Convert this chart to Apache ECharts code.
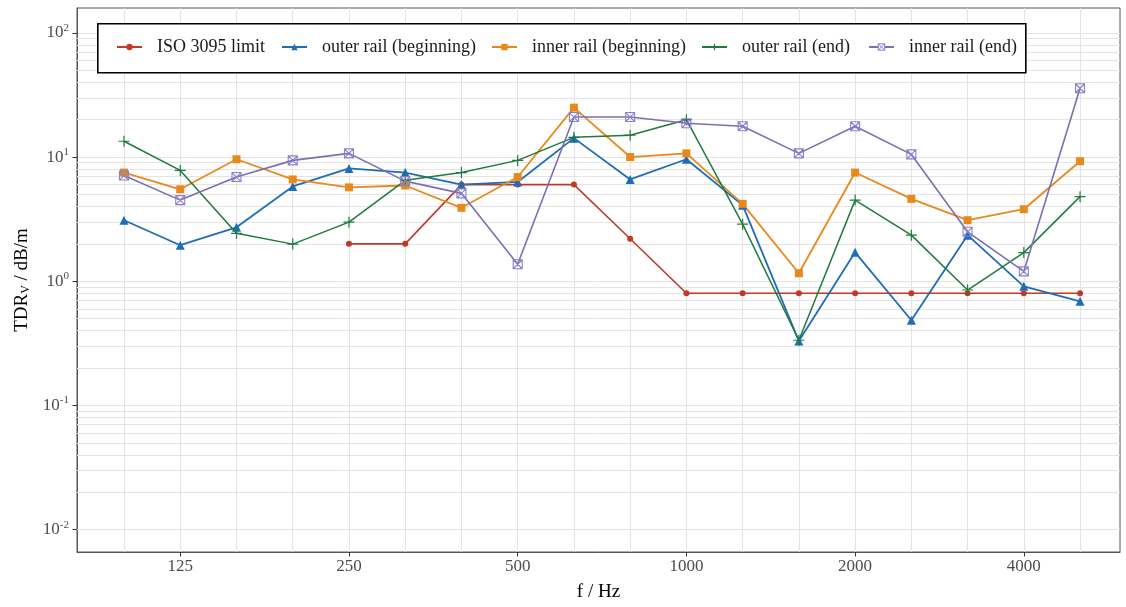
<!DOCTYPE html>
<html><head><meta charset="utf-8">
<script src="https://cdn.jsdelivr.net/npm/echarts@6/dist/echarts.min.js"></script>
<style>html,body{margin:0;padding:0;background:#fff}#c{width:1126px;height:607px}</style>
</head><body><div id="c"></div>
<script>
const freqs = [100,125,160,200,250,315,400,500,630,800,1000,1250,1600,2000,2500,3150,4000,5000];
const xTickFreqs = [125,250,500,1000,2000,4000];
const yTickValues = [0.01,0.1,1,10,100];
const isoLimit   = [null,null,null,null,2,2,6,6,6,2.2,0.8,0.8,0.8,0.8,0.8,0.8,0.8,0.8];
const outerBegin = [3.1,1.95,2.72,5.8,8.1,7.5,6.0,6.3,14.2,6.6,9.6,4.1,0.33,1.71,0.485,2.35,0.91,0.69];
const innerBegin = [7.5,5.5,9.6,6.6,5.7,5.9,3.9,6.9,25,10,10.7,4.2,1.16,7.5,4.6,3.1,3.8,9.25];
const outerEnd   = [13.4,7.8,2.43,1.99,2.99,6.5,7.5,9.4,14.4,15,20,2.88,0.335,4.5,2.35,0.85,1.7,4.8];
const innerEnd   = [7.1,4.5,6.9,9.4,10.7,6.4,5.1,1.37,21,21,18.7,17.7,10.7,17.7,10.5,2.5,1.2,35.8];
const seriesNames = ['ISO 3095 limit','outer rail (beginning)','inner rail (beginning)','outer rail (end)','inner rail (end)'];

const FONT = '"Liberation Serif", "DejaVu Serif", serif';
const colors = ['#c23a26','#1f6db4','#e8891c','#1e7b3c','#7a6fb4'];
const yMin = Math.pow(10,-2.18), yMax = Math.pow(10,2.2);

function pairs(arr){ const out=[]; arr.forEach((v,i)=>{ if(v!=null) out.push([i,v]); }); return out; }

// grid line positions (style only)
const vLines = freqs.map((f,i)=>({xAxis:i}));
const hLines = [];
for (let d=-3; d<=2; d++) for (let m=2; m<=9; m++){ const v=m*Math.pow(10,d); if(v>yMin && v<yMax) hLines.push({yAxis:v}); }

const plusPath = 'path://M5,0L5,10M0,5L10,5';
const sqxPath = 'path://M0,0L10,0L10,10L0,10ZM0,0L10,10M10,0L0,10';

const series = [
  {name: seriesNames[0], data: pairs(isoLimit), symbol:'circle', symbolSize:6,
   itemStyle:{color:colors[0]}, lineStyle:{color:colors[0], width:1.6}},
  {name: seriesNames[1], data: pairs(outerBegin), symbol:'triangle', symbolSize:9,
   itemStyle:{color:colors[1]}, lineStyle:{color:colors[1], width:1.8}},
  {name: seriesNames[2], data: pairs(innerBegin), symbol:'rect', symbolSize:8,
   itemStyle:{color:colors[2]}, lineStyle:{color:colors[2], width:1.8}},
  {name: seriesNames[3], data: pairs(outerEnd), symbol:plusPath, symbolSize:11,
   itemStyle:{color:'rgba(0,0,0,0)', borderColor:colors[3], borderWidth:1.2}, lineStyle:{color:colors[3], width:1.5}},
  {name: seriesNames[4], data: pairs(innerEnd), symbol:sqxPath, symbolSize:9,
   itemStyle:{color:'rgba(255,255,255,0)', borderColor:'#8a80c8', borderWidth:1.1}, lineStyle:{color:colors[4], width:1.6}}
].map(s=>Object.assign({type:'line', showSymbol:true, symbolKeepAspect:true, z:3, emphasis:{disabled:true}, animation:false}, s));

series.unshift({
  type:'line', name:'grid', data:[], z:1, silent:true, animation:false,
  markLine:{silent:true, z:1, symbol:['none','none'], label:{show:false}, animation:false,
    lineStyle:{color:'#e4e4e4', width:1, type:'solid'}, emphasis:{disabled:true},
    data: vLines.concat(hLines)}
});

const legendIconLeft = [116,281,491,701,868];
const legendItemStyles = [
  {}, {}, {},
  {color:'#fff', borderColor:colors[3], borderWidth:1.2},
  {color:'#fff', borderColor:'#8a80c8', borderWidth:1}
];
const legends = seriesNames.map((n,i)=>({
  data:[n], left: legendIconLeft[i], top: 38, padding:0, itemWidth:25, itemHeight:8, z:6,
  selectedMode:false, itemStyle: legendItemStyles[i],
  textStyle:{fontFamily:FONT, fontSize:18, color:'#1a1a1a', padding:[0,0,0,10]}
}));

const chart = echarts.init(document.getElementById('c'), null, {renderer:'canvas'});
chart.setOption({
  animation:false,
  backgroundColor:'#fff',
  grid:{left:77, right:6, top:8, bottom:55, show:true, borderColor:'#555', borderWidth:1, z:0},
  legend: legends,
  graphic:[{type:'rect', left:97, top:23, z:5, shape:{width:928, height:49},
    style:{fill:'#fff', stroke:'#000', lineWidth:1.6}}],
  xAxis:{type:'value', min:-0.836, max:17.71,
    name:'f / Hz', nameLocation:'middle', nameGap:31,
    nameTextStyle:{fontFamily:FONT, fontSize:19, color:'#000'},
    axisLine:{show:true, onZero:false, lineStyle:{color:'#555', width:1}},
    axisTick:{show:true, length:4.5, lineStyle:{color:'#333'}, customValues: xTickFreqs.map(f=>freqs.indexOf(f))},
    axisLabel:{customValues: xTickFreqs.map(f=>freqs.indexOf(f)), fontFamily:FONT, fontSize:17, color:'#4d4d4d', margin:6,
      formatter: v=>String(freqs[Math.round(v)])},
    splitLine:{show:false}},
  yAxis:{type:'log', logBase:10, min:yMin, max:yMax,
    name:'TDR{sub|V} / dB/m', nameLocation:'middle', nameGap:44,
    nameTextStyle:{fontFamily:FONT, fontSize:19, color:'#000',
      rich:{sub:{fontFamily:FONT, fontSize:12, padding:[8,0,0,0]}}},
    axisLine:{show:true, onZero:false, lineStyle:{color:'#555', width:1}},
    axisTick:{show:true, length:4.5, lineStyle:{color:'#333'}, customValues: yTickValues},
    axisLabel:{customValues: yTickValues, fontFamily:FONT, fontSize:17, color:'#4d4d4d', margin:8,
      formatter: v=>'10{sup|'+Math.round(Math.log10(v))+'}',
      rich:{sup:{fontFamily:FONT, fontSize:11, color:'#4d4d4d', padding:[0,0,10,0]}}},
    splitLine:{show:true, lineStyle:{color:'#e4e4e4', width:1}},
    minorTick:{show:false},
    minorSplitLine:{show:false}},
  series: series
});
</script></body></html>
